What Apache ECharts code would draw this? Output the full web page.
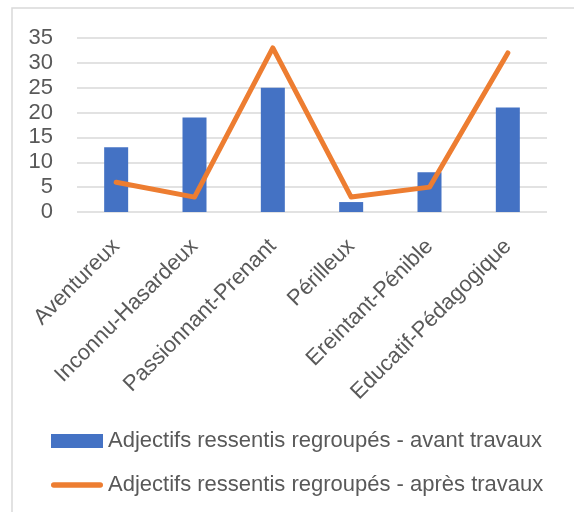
<!DOCTYPE html>
<html>
<head>
<meta charset="utf-8">
<script src="https://cdn.jsdelivr.net/npm/echarts@6/dist/echarts.min.js"></script>
<style>
html,body{margin:0;padding:0;background:#fff;}
#chart{width:574px;height:512px;}
</style>
</head>
<body>
<div id="chart"></div>
<script>
const categories = ['Aventureux', 'Inconnu-Hasardeux', 'Passionnant-Prenant', 'Périlleux', 'Ereintant-Pénible', 'Educatif-Pédagogique'];
const avantTravaux = [13, 19, 25, 2, 8, 21];
const apresTravaux = [6, 3, 33, 3, 5, 32];
const seriesNames = ['Adjectifs ressentis regroupés - avant travaux', 'Adjectifs ressentis regroupés - après travaux'];
const yTicks = {min: 0, max: 35, interval: 5};

const FONT = 'Liberation Sans';
const TXT = '#595959';
const chart = echarts.init(document.getElementById('chart'), null, {renderer: 'canvas'});
chart.setOption({
  animation: false,
  backgroundColor: '#ffffff',
  textStyle: {fontFamily: FONT},
  graphic: [{
    type: 'rect',
    shape: {x: 12, y: 8, width: 620, height: 560},
    style: {fill: 'none', stroke: '#D9D9D9', lineWidth: 1.5},
    silent: true, z: -1
  }],
  grid: {left: 77, right: 27, top: 38, bottom: 300, containLabel: false},
  legend: {
    orient: 'vertical',
    left: 46, top: 425,
    padding: 5,
    itemWidth: 52, itemHeight: 14, itemGap: 22,
    textStyle: {fontFamily: FONT, fontSize: 22, color: TXT},
    data: [
      {name: seriesNames[0], icon: 'rect'},
      {name: seriesNames[1], icon: 'path://M3,0 L53,0 A3,3 0 0 1 53,6 L3,6 A3,3 0 0 1 3,0 Z'}
    ]
  },
  xAxis: {
    type: 'category',
    data: categories,
    axisLine: {show: false},
    axisTick: {show: false},
    axisLabel: {rotate: 45, margin: 31, fontFamily: FONT, fontSize: 22, color: TXT, interval: 0}
  },
  yAxis: {
    type: 'value',
    min: yTicks.min, max: yTicks.max, interval: yTicks.interval,
    axisLine: {show: false},
    axisTick: {show: false},
    axisLabel: {margin: 24, fontFamily: FONT, fontSize: 22, color: TXT},
    splitLine: {lineStyle: {color: '#D9D9D9', width: 1.5}}
  },
  series: [
    {
      name: seriesNames[0],
      type: 'bar',
      data: avantTravaux,
      barWidth: 24,
      itemStyle: {color: '#4472C4'}
    },
    {
      name: seriesNames[1],
      type: 'line',
      data: apresTravaux,
      symbol: 'none',
      showSymbol: false,
      itemStyle: {color: '#ED7D31'},
      lineStyle: {color: '#ED7D31', width: 5, cap: 'round', join: 'round'}
    }
  ]
});
</script>
</body>
</html>
